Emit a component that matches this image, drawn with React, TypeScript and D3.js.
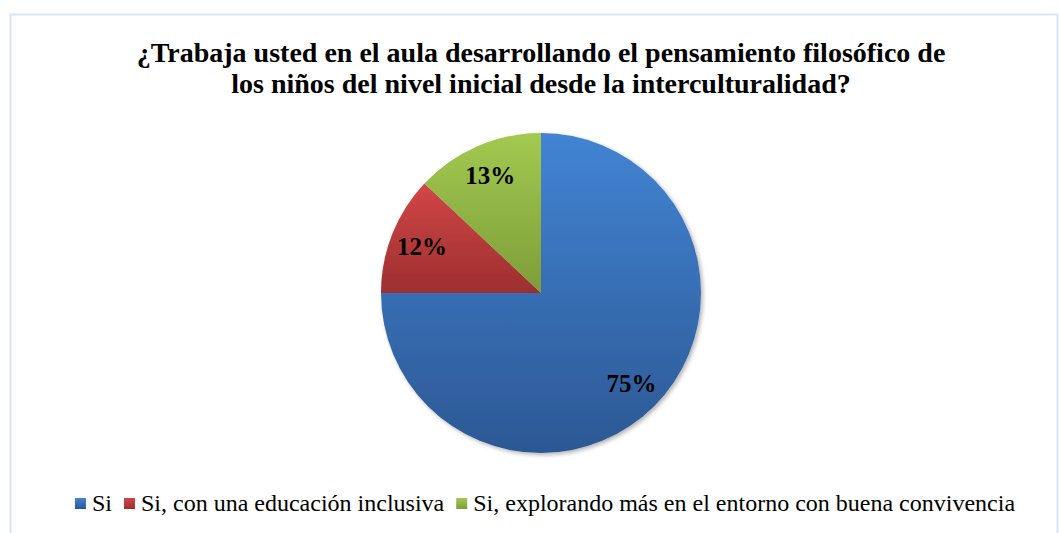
import React, { useEffect, useRef } from "react";
import * as d3 from "d3";

const categories = ["Si", "Si, con una educación inclusiva", "Si, explorando más en el entorno con buena convivencia"];
const values = [75, 12, 13];
const labels = ["75%", "12%", "13%"];
const titleLines = [
  "¿Trabaja usted en el aula desarrollando el pensamiento filosófico de",
  "los niños del nivel inicial desde la interculturalidad?",
];
const colorTop = ["#4284d3", "#d24646", "#a2c950"];
const colorBottom = ["#2c5894", "#9c2f2f", "#7d9d39"];

export default function App() {
  const ref = useRef<SVGSVGElement>(null);
  useEffect(() => {
    const svg = d3.select(ref.current!);
    svg.selectAll("*").remove();
    const W = 1059, H = 533;
    const font = '"Liberation Serif", "Times New Roman", Tinos, "DejaVu Serif", serif';
    svg.append("rect").attr("x", 10.5).attr("y", 14.5).attr("width", W - 12).attr("height", H).attr("fill", "#fff").attr("stroke", "#d9e5f5").attr("stroke-width", 2);

    const defs = svg.append("defs");
    values.forEach((_, i) => {
      const g = defs.append("linearGradient").attr("id", "g" + i).attr("x1", 0).attr("y1", 0).attr("x2", 0).attr("y2", 1);
      g.append("stop").attr("offset", "0%").attr("stop-color", colorTop[i]);
      g.append("stop").attr("offset", "100%").attr("stop-color", colorBottom[i]);
    });
    const f = defs.append("filter").attr("id", "sh").attr("x", "-10%").attr("y", "-10%").attr("width", "130%").attr("height", "130%");
    f.append("feDropShadow").attr("dx", 2).attr("dy", 2).attr("stdDeviation", 2).attr("flood-color", "#000").attr("flood-opacity", 0.3);

    const title = svg.append("text").attr("text-anchor", "middle").style("font-family", font).attr("font-weight", "bold").attr("font-size", 28).attr("fill", "#000");
    titleLines.forEach((t, i) => title.append("tspan").attr("x", 541).attr("y", 62 + i * 31).text(t));

    const cx = 541, cy = 293, r = 160;
    const pie = d3.pie<number>().sort(null).value((d) => d);
    const arcs = pie(values);
    const arc = d3.arc<d3.PieArcDatum<number>>().innerRadius(0).outerRadius(r);
    const gp = svg.append("g").attr("transform", `translate(${cx},${cy})`);
    gp.append("g").attr("filter", "url(#sh)").selectAll("path").data(arcs).enter().append("path")
      .attr("d", arc as any).attr("fill", (_, i) => `url(#g${i})`);
    const lab = d3.arc<d3.PieArcDatum<number>>().innerRadius(r * 0.8).outerRadius(r * 0.8);
    gp.selectAll("text").data(arcs).enter().append("text")
      .attr("transform", (d) => {
        const c = lab.centroid(d);
        return `translate(${c[0]},${c[1]})`;
      })
      .attr("text-anchor", "middle").attr("dy", "0.35em")
      .style("font-family", font).attr("font-weight", "bold").attr("font-size", 25).attr("fill", "#000")
      .text((_, i) => labels[i]);

    // legend
    const lg = svg.append("g");
    const items: { g: any; w: number }[] = [];
    categories.forEach((c, i) => {
      const g = lg.append("g");
      g.append("rect").attr("x", 0).attr("y", -13).attr("width", 11).attr("height", 11).attr("fill", `url(#g${i})`);
      const t = g.append("text").attr("x", 17).attr("y", 0).style("font-family", font).attr("font-size", 24).attr("fill", "#000").text(c);
      const w = 17 + (t.node() as SVGTextElement).getComputedTextLength();
      items.push({ g, w });
    });
    const gap = 12;
    const total = items.reduce((s, it) => s + it.w, 0) + gap * (items.length - 1);
    let x = 545 - total / 2;
    items.forEach((it) => {
      it.g.attr("transform", `translate(${x},511)`);
      x += it.w + gap;
    });
  }, []);
  return <svg ref={ref} width={1059} height={533} style={{ position: "absolute", left: 0, top: 0 }} />;
}
